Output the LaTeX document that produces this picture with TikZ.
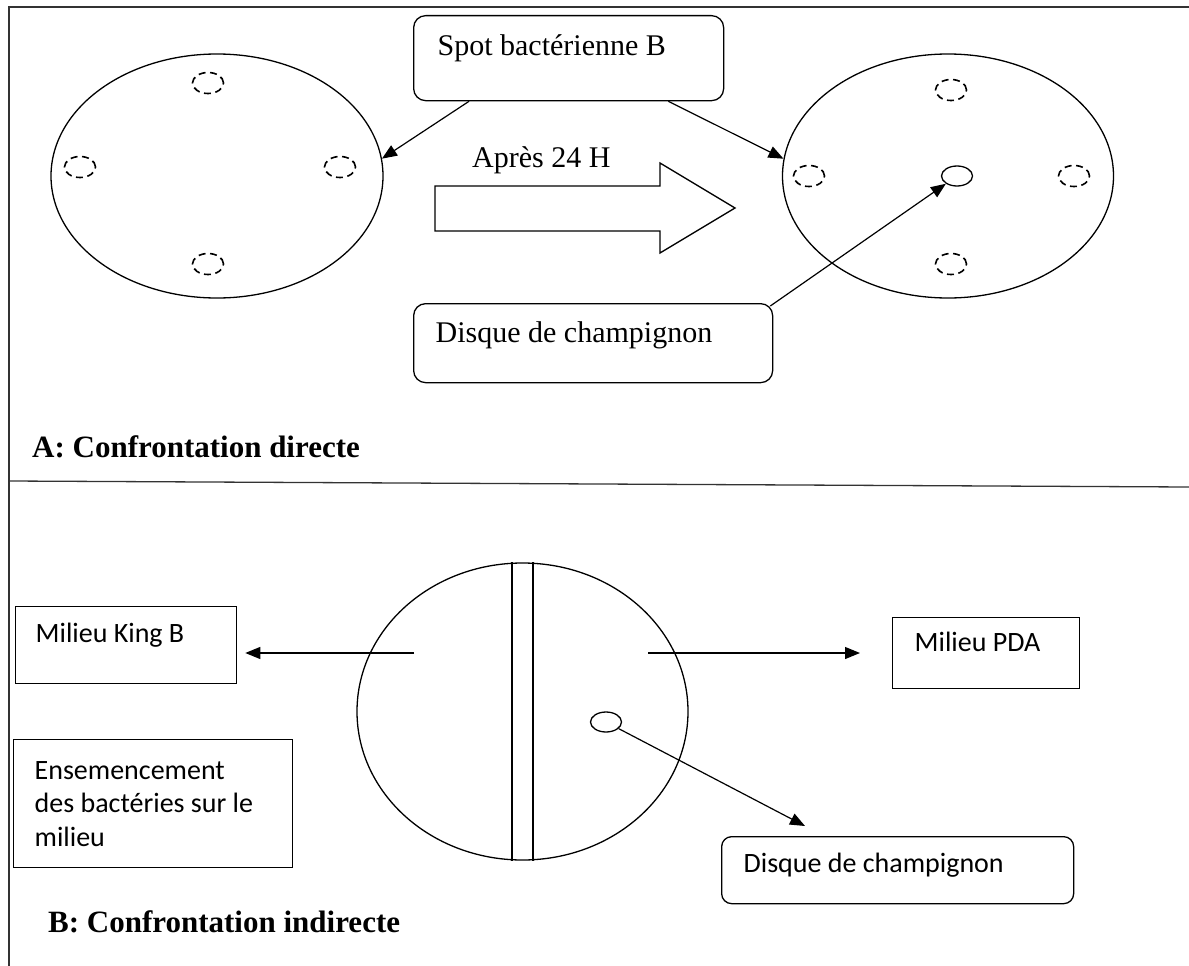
\documentclass[tikz,border=0pt]{standalone}
\usepackage{fontspec}
\setmainfont{Liberation Serif}
\newfontfamily\calibri{Carlito}
\usepackage{tikz}
\usetikzlibrary{calc, shapes.geometric, arrows.meta}
\tikzstyle{arrow}   = [line width=1.2pt,-{Triangle[length=15pt,width=12pt]}]
\tikzstyle{plate}   = [draw, ellipse, line width=1.3pt, inner sep=0pt]
\tikzstyle{spot}    = [draw, ellipse, dash pattern=on 7pt off 4.5pt, line width=1.6pt, minimum width=31pt, minimum height=21pt, inner sep=0pt]
\tikzstyle{disc}    = [draw, ellipse, line width=1.3pt, minimum width=31pt, minimum height=20pt, inner sep=0pt]
\tikzstyle{textbox} = [draw, line width=1.3pt, anchor=north west, align=left, inner ysep=8pt,
                       execute at begin node={\spaceskip=0pt\xspaceskip=0pt\relax}]
\tikzstyle{serif}   = [font=\fontsize{30}{36}\selectfont]
\tikzstyle{sans}    = [font=\calibri\fontsize{28}{33.5}\selectfont]
\tikzstyle{heading} = [font=\fontsize{31}{36}\selectfont\bfseries, anchor=base west, inner sep=0pt]

\begin{document}
\begin{tikzpicture}[x=1pt,y=-1pt]
  \useasboundingbox (0,0) rectangle (1189,966);

  % outline
  \draw[line width=1.6pt, black!80] (9,966) -- (9,7) -- (1189,7);
  \draw[line width=1.3pt, black!80] (9,481) -- (1189,487);

  % A: plates before and after
  \node[plate, minimum width=332pt, minimum height=244pt] (plateA) at (217,176) {};
  \node[spot] (spotA1) at (208,83) {};
  \node[spot] (spotA2) at (80,167) {};
  \node[spot] (spotA3) at (340,167) {};
  \node[spot] (spotA4) at (208,264) {};
  \node[plate, minimum width=331pt, minimum height=244pt] (plateB) at (948,176) {};
  \node[spot] (spotB1) at (951,90) {};
  \node[spot] (spotB2) at (809,176) {};
  \node[spot] (spotB3) at (1074,176) {};
  \node[spot] (spotB4) at (951,264) {};
  \node[disc] (discA) at (957,176) {};

  \node[textbox, serif, rounded corners=12pt, text width=262pt, inner xsep=24pt,
        text height=32pt, text depth=37pt] (spotB) at (413,15) {Spot bactérienne B};
  \node[textbox, serif, rounded corners=12pt, text width=315pt, inner xsep=22pt,
        text height=31pt, text depth=32pt] (disqueA) at (413,303) {Disque de champignon};

  % big arrow
  \draw[line width=1.3pt] (435,186) -- (660,186) -- (660,163) -- (735,208)
        -- (660,253) -- (660,231) -- (435,231) -- cycle;
  \node[serif, anchor=base west, inner sep=0pt] (delai) at (472,167) {Après 24 H};

  \draw[arrow] ($(spotB.south west)!0.18!(spotB.south east)$) -- (plateA.6);
  \draw[arrow] ($(spotB.south west)!0.82!(spotB.south east)$) -- (plateB.174);
  \draw[arrow] ($(disqueA.north east)+(-3,3)$) -- (discA);

  \node[heading] (titreA) at (32,457) {A: Confrontation directe};

  % B: split plate
  \node[plate, minimum width=331pt, minimum height=297pt] (plateC) at (522.5,711.5) {};
  \draw[line width=1.3pt] ($(plateC.north)+(-10.5,0)$) -- ($(plateC.south)+(-10.5,0)$);
  \draw[line width=1.3pt] ($(plateC.north)+(10.5,0)$) -- ($(plateC.south)+(10.5,0)$);
  \node[disc] (discB) at (606,722) {};

  \node[textbox, sans, text width=181pt, inner xsep=20pt,
        text height=28pt, text depth=33pt] (kingB) at (15,606) {Milieu King B};
  \node[textbox, sans, text width=143pt, inner xsep=22pt,
        text height=26pt, text depth=29pt] (pda) at (892,617) {Milieu PDA};
  \node[textbox, sans, text width=237pt, inner xsep=21pt,
        minimum height=128pt] (semis) at (13,739) {Ensemencement\\des bactéries sur le\\milieu};
  \node[textbox, sans, rounded corners=10pt, text width=308pt, inner xsep=22pt,
        text height=28pt, text depth=23pt] (disqueB) at (721,836) {Disque de champignon};

  \coordinate (kingpt) at (414,653);
  \coordinate (pdapt) at (648,653);
  \draw[arrow, shorten >=8pt] (kingpt) -- (kingpt -| kingB.east);
  \draw[arrow, shorten >=32pt] (pdapt) -- (pdapt -| pda.west);
  \draw[arrow] (discB) -- ($(disqueB.north west)+(84,-10)$);

  \node[heading] (titreB) at (48,932) {B: Confrontation indirecte};
\end{tikzpicture}
\end{document}
